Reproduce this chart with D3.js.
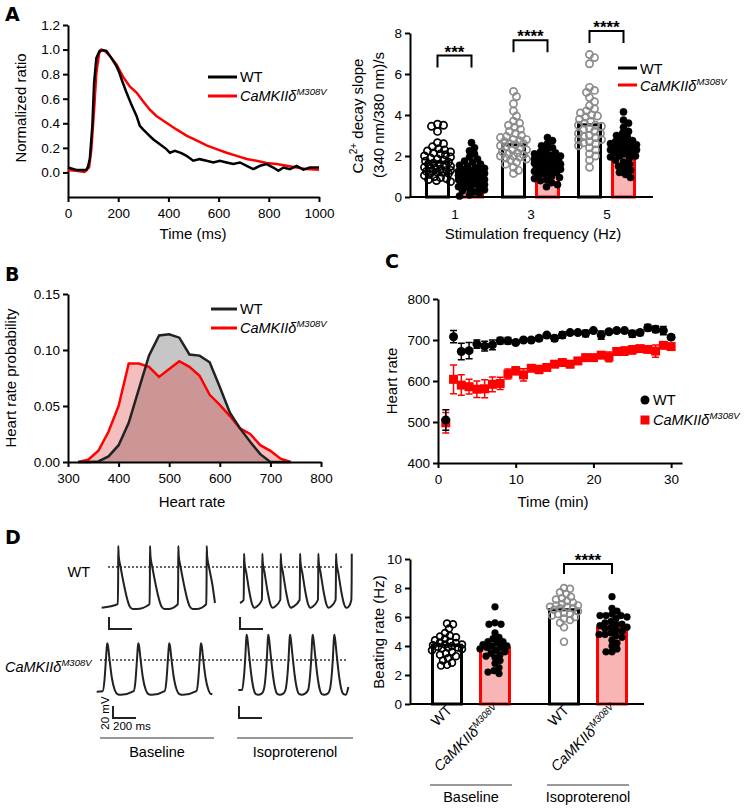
<!DOCTYPE html>
<html>
<head>
<meta charset="utf-8">
<script src="https://cdn.jsdelivr.net/npm/d3@7.9.0/dist/d3.min.js"></script>
<style>
  body { margin: 0; background: #fff; }
  svg { font-family: "Liberation Sans", Arial, sans-serif; }
</style>
</head>
<body>
<svg id="fig" width="744" height="809"></svg>
<script>
// ---- Panel A (left): normalized Ca transient ----
const caTimeWT = [0,33,73,80,87,97,104,113,126,140,153,173,193,203,213,233,253,273,286,299,319,339,366,392,406,426,452,472,499,525,552,579,605,632,658,685,712,738,765,791,818,838,858,884,911,938,964,1000];
const caRatioWT = [0.04,0.02,0.02,0.05,0.11,0.38,0.73,0.93,0.99,0.995,0.99,0.93,0.865,0.82,0.76,0.65,0.55,0.46,0.38,0.35,0.31,0.27,0.23,0.19,0.16,0.175,0.157,0.135,0.095,0.108,0.095,0.081,0.095,0.081,0.068,0.081,0.054,0.027,0.054,0.068,0.04,0.013,0.04,0.027,0.054,0.022,0.04,0.04];
const caTimeMut = [0,33,66,84,93,104,113,124,133,146,166,193,219,246,273,299,326,352,392,432,472,512,552,592,632,672,712,751,791,831,871,911,951,1000];
const caRatioMut = [0.02,0.014,0.005,0.04,0.19,0.51,0.81,0.97,1.0,0.99,0.95,0.88,0.78,0.70,0.65,0.58,0.51,0.46,0.405,0.35,0.30,0.26,0.22,0.19,0.16,0.135,0.11,0.095,0.076,0.068,0.054,0.04,0.027,0.022];

// ---- Panel A (right): Ca decay slope ----
const freqs = ["1", "3", "5"];
const slopeMeanWT = [1.7, 2.55, 3.52];
const slopeMeanMut = [1.07, 1.62, 2.32];
const slopeWT1 = [3.55,3.5,3.45,3.2,2.65,2.6,2.45,2.35,2.3,2.25,2.2,2.15,2.1,2.05,2.0,1.95,1.9,1.85,1.8,1.75,1.7,1.65,1.6,1.55,1.5,1.45,1.4,1.35,1.3,1.3,1.25,1.2,1.2,1.15,1.1,1.05,1.0,0.95,0.9,0.85,0.8,0.75,1.6,1.4,1.25];
const slopeMut1 = [2.65,2.4,2.25,2.1,1.95,1.85,1.75,1.7,1.6,1.55,1.5,1.45,1.4,1.35,1.3,1.25,1.2,1.2,1.15,1.1,1.1,1.05,1.0,1.0,0.95,0.9,0.9,0.85,0.8,0.8,0.75,0.7,0.65,0.6,0.55,0.5,0.45,0.4,0.35,0.3,0.25,0.2,0.1,0.05,1.3,1.0,0.7,1.15,0.85,0.6];
const slopeWT3 = [5.15,4.9,4.55,4.2,3.95,3.7,3.6,3.5,3.4,3.3,3.2,3.1,3.0,2.95,2.9,2.8,2.75,2.7,2.6,2.55,2.5,2.45,2.4,2.3,2.2,2.15,2.1,2.05,2.0,1.95,1.9,1.85,1.8,1.7,1.6,1.45,1.3,1.15,2.6,2.3,2.0,2.8];
const slopeMut3 = [2.9,2.75,2.6,2.5,2.4,2.3,2.2,2.15,2.1,2.05,2.0,1.95,1.9,1.85,1.8,1.75,1.7,1.65,1.6,1.6,1.55,1.5,1.45,1.4,1.35,1.3,1.25,1.2,1.15,1.1,1.0,0.95,0.9,0.85,0.8,0.7,0.6,0.5,1.8,1.5,1.3,1.7,2.0,1.2];
const slopeWT5 = [6.95,6.8,6.5,5.35,5.2,5.1,4.85,4.65,4.45,4.3,4.2,4.1,3.95,3.9,3.8,3.7,3.6,3.5,3.45,3.35,3.3,3.2,3.1,3.0,2.95,2.9,2.8,2.7,2.65,2.6,2.5,2.4,2.3,2.1,2.0,1.8,1.45,3.5,3.1,2.8,4.0];
const slopeMut5 = [4.15,3.75,3.6,3.4,3.2,3.1,3.0,2.9,2.8,2.75,2.7,2.6,2.55,2.5,2.45,2.4,2.35,2.3,2.25,2.2,2.15,2.1,2.0,1.95,1.9,1.8,1.7,1.6,1.5,1.4,1.3,1.2,1.1,0.95,2.6,2.3,2.0];
const slopeSigLevel = [6.9, 7.65, 8.1];
const slopeSigStars = ["***", "****", "****"];

// ---- Panel B: heart rate distribution ----
const hrBins = [320,340,360,380,400,420,440,460,480,500,520,540,560,580,600,620,640,660,680,700,720,740];
const hrProbWT = [0,0,0.0005,0.005,0.015,0.035,0.065,0.095,0.113,0.114,0.111,0.096,0.095,0.089,0.067,0.044,0.030,0.018,0.007,0,0,0];
const hrProbMut = [0,0.002,0.010,0.027,0.050,0.088,0.088,0.085,0.076,0.083,0.090,0.085,0.077,0.060,0.051,0.041,0.030,0.025,0.015,0.010,0.003,0];

// ---- Panel C: heart rate over time ----
const timeMin = d3.range(1, 31);
const hrWT = [505,708,672,674,690,685,688,698,698,694,700,700,704,712,704,712,718,718,716,723,712,720,723,723,715,718,730,726,723,707];
const hrWTErr = [25,15,20,20,10,12,12,8,8,4,3,3,6,4,7,8,3,3,8,4,10,5,5,3,8,7,8,8,10,6];
const hrMut = [498,604,590,586,580,581,592,594,617,625,615,631,628,633,641,645,641,649,657,657,663,659,672,673,676,679,677,673,687,684];
const hrMutErr = [25,35,25,18,20,22,18,15,12,10,15,5,10,5,4,4,8,4,4,4,5,12,5,10,10,5,4,15,4,4];

// ---- Panel D (left): action potential traces (ms, mV) ----
const apWTBaseSpikes = [144, 420, 666, 913];
const apWTIsoSpikes = [35, 194, 354, 522, 681, 835, 972];
const apMutBaseSpikes = [92, 362, 631, 907];
const apMutIsoSpikes = [73, 261, 450, 647, 835];
const apWTBaseShape = [[-4,-62],[-1,-20],[0,35],[4,18],[20,0],[50,-30],[80,-55],[100,-66],[125,-70],[160,-70]];
const apWTIsoShape = [[-4,-55],[-1,-20],[0,22],[4,8],[20,-10],[45,-40],[70,-62],[90,-68],[110,-66]];
const apMutBaseShape = [[-40,-52],[-25,-35],[-12,0],[-4,22],[0,28],[6,24],[20,0],[40,-30],[65,-50],[90,-57],[120,-58]];
const apMutIsoShape = [[-40,-50],[-25,-30],[-12,5],[-4,35],[0,42],[6,36],[20,10],[40,-25],[60,-48],[80,-57],[100,-58],[130,-56]];

// ---- Panel D (right): beating rate ----
const conditions = ["Baseline", "Isoproterenol"];
const beatMeanWT = [4.05, 6.5];
const beatMeanMut = [3.85, 5.25];
const beatWTBase = [5.55,5.5,5.2,4.9,4.7,4.65,4.6,4.5,4.4,4.3,4.25,4.2,4.1,4.05,4.0,3.95,3.9,3.85,3.8,3.7,3.6,3.5,3.4,3.3,3.15,3.0,2.85,2.7,2.65,4.1,3.9];
const beatMutBase = [6.7,5.6,5.5,5.5,4.9,4.6,4.5,4.3,4.2,4.1,4.0,3.9,3.8,3.7,3.6,3.5,3.4,3.3,3.0,2.8,2.5,2.3,2.2,2.1,4.3,3.9,4.0,3.2];
const beatWTIso = [8.0,7.95,7.7,7.6,7.4,7.3,7.1,7.0,6.9,6.8,6.7,6.7,6.6,6.5,6.4,6.3,6.2,6.1,6.0,5.9,5.8,5.6,5.3,4.3,6.8,6.6,7.2,6.2];
const beatMutIso = [7.4,6.6,6.4,6.2,6.1,6.1,6.0,5.9,5.7,5.6,5.5,5.4,5.3,5.2,5.1,5.0,4.9,4.8,4.7,4.6,4.4,4.2,4.0,3.8,3.6,3.6,5.5,6.1,5.3,4.8];
const beatSigLevel = 9.65;

const RED = "#ff0000";
const PINK = "#f9b4b4";
const GRAY = "#8c8c8c";

const svg = d3.select("#fig");

function styleAxis(g, fs = 13.5) {
  g.attr("font-family", null).attr("font-size", fs);
  g.select(".domain").attr("stroke", "#000").attr("stroke-width", 2);
  g.selectAll(".tick line").attr("stroke", "#000").attr("stroke-width", 2);
  g.selectAll(".tick text").attr("fill", "#000");
}

function mutText(sel, size) {
  sel.append("tspan").attr("font-style", "italic").text("CaMKIIδ");
  sel.append("tspan").attr("font-style", "italic")
    .attr("font-size", size * 0.66).attr("dy", -size * 0.38).text("M308V");
}

function panelLetter(x, y, t) {
  svg.append("text").attr("x", x).attr("y", y).attr("font-size", 19)
    .attr("font-family", "'DejaVu Sans', sans-serif").attr("font-weight", "bold").text(t);
}

function yTitle(x, y, t, fs = 15) {
  return svg.append("text").attr("transform", `translate(${x},${y}) rotate(-90)`)
    .attr("text-anchor", "middle").attr("font-size", fs).text(t);
}

function xTitle(x, y, t, fs = 15) {
  return svg.append("text").attr("x", x).attr("y", y)
    .attr("text-anchor", "middle").attr("font-size", fs).text(t);
}

// simple deterministic swarm: nudge points sideways so they overlap less
function swarm(values, cx, y, r, maxOff) {
  const placed = [];
  const pts = values.map((v) => ({ v, y: y(v) })).sort((a, b) => a.y - b.y);
  const dmin = r * 1.6;
  pts.forEach((p) => {
    let best = null;
    for (let k = 0; k <= maxOff && best === null; k++) {
      for (const o of k === 0 ? [0] : [k, -k]) {
        if (placed.every((q) => Math.hypot(q.x - (cx + o), q.y - p.y) >= dmin)) {
          best = o;
          break;
        }
      }
    }
    if (best === null) {
      let bestD = -1;
      for (let o = -maxOff; o <= maxOff; o++) {
        const d = d3.min(placed, (q) => Math.hypot(q.x - (cx + o), q.y - p.y));
        if (d > bestD) { bestD = d; best = o; }
      }
    }
    p.x = cx + best;
    placed.push(p);
  });
  return placed;
}

function drawDots(pts, open, color, r) {
  svg.append("g").selectAll("circle").data(pts).join("circle")
    .attr("cx", (d) => d.x).attr("cy", (d) => d.y).attr("r", r)
    .attr("fill", open ? "none" : color)
    .attr("stroke", color).attr("stroke-width", open ? 1.7 : 0.5);
}

function bracket(x1, x2, yTop, drop, stars) {
  svg.append("path").attr("d", `M${x1},${yTop + drop}V${yTop}H${x2}V${yTop + drop}`)
    .attr("fill", "none").attr("stroke", "#000").attr("stroke-width", 2);
  svg.append("text").attr("x", (x1 + x2) / 2).attr("y", yTop + 2)
    .attr("text-anchor", "middle").attr("font-size", 17).attr("font-weight", "bold").text(stars);
}

// ================= Panel A left =================
{
  const x = d3.scaleLinear().domain([0, 1000]).range([68, 319]);
  const y = d3.scaleLinear().domain([-0.2, 1.2]).range([197, 25]);
  svg.append("g").attr("transform", "translate(0,197)")
    .call(d3.axisBottom(x).tickValues(d3.range(0, 1001, 200)).tickFormat(d3.format("d")).tickSizeInner(5).tickSizeOuter(0).tickPadding(6))
    .call(styleAxis);
  svg.append("g").attr("transform", "translate(68,0)")
    .call(d3.axisLeft(y).tickValues(d3.range(0, 1.21, 0.2)).tickFormat(d3.format(".1f")).tickSizeInner(5).tickSizeOuter(0).tickPadding(3))
    .call(styleAxis);

  const line = d3.line().x((d) => x(d[0])).y((d) => y(d[1]));
  svg.append("path").datum(d3.zip(caTimeMut, caRatioMut)).attr("d", line)
    .attr("fill", "none").attr("stroke", RED).attr("stroke-width", 2.5);
  svg.append("path").datum(d3.zip(caTimeWT, caRatioWT)).attr("d", line)
    .attr("fill", "none").attr("stroke", "#000").attr("stroke-width", 2.5);

  yTitle(26, 108, "Normalized ratio");
  xTitle(193, 239, "Time (ms)");

  svg.append("line").attr("x1", 208).attr("x2", 237).attr("y1", 77).attr("y2", 77).attr("stroke", "#000").attr("stroke-width", 3);
  svg.append("text").attr("x", 240).attr("y", 82).attr("font-size", 14.5).text("WT");
  svg.append("line").attr("x1", 208).attr("x2", 237).attr("y1", 96).attr("y2", 96).attr("stroke", RED).attr("stroke-width", 3);
  svg.append("text").attr("x", 240).attr("y", 101).attr("font-size", 14.5).call(mutText, 14.5);
}

// ================= Panel A right =================
{
  const x = d3.scaleBand().domain(freqs).range([417, 645]);
  const sub = d3.scaleBand().domain(["WT", "Mut"]).range([8, 67]).paddingInner(0.265);
  const y = d3.scaleLinear().domain([0, 8]).range([197, 33]);
  svg.append("g").attr("transform", "translate(410,0)")
    .call(d3.axisLeft(y).tickValues([0, 2, 4, 6, 8]).tickSizeInner(5).tickSizeOuter(0).tickPadding(3))
    .call(styleAxis);

  const wtSets = [slopeWT1, slopeWT3, slopeWT5];
  const mutSets = [slopeMut1, slopeMut3, slopeMut5];
  freqs.forEach((f, i) => {
    const xw = x(f) + sub("WT"), xm = x(f) + sub("Mut"), bw = sub.bandwidth();
    svg.append("rect").attr("x", xw + 1.5).attr("width", bw - 3)
      .attr("y", y(slopeMeanWT[i])).attr("height", y(0) - y(slopeMeanWT[i]))
      .attr("fill", "#fff").attr("stroke", "#000").attr("stroke-width", 3);
    svg.append("rect").attr("x", xm + 1.5).attr("width", bw - 3)
      .attr("y", y(slopeMeanMut[i])).attr("height", y(0) - y(slopeMeanMut[i]))
      .attr("fill", PINK).attr("stroke", RED).attr("stroke-width", 3);
    drawDots(swarm(wtSets[i], xw + bw / 2, y, 3.6, 13), true, i === 0 ? "#000" : GRAY, 3.6);
    drawDots(swarm(mutSets[i], xm + bw / 2, y, 3.6, 13), false, "#000", 3.6);
    bracket(xw + bw / 2, xm + bw / 2, y(slopeSigLevel[i]), 12, slopeSigStars[i]);
    svg.append("text").attr("x", x(f) + x.bandwidth() / 2).attr("y", 219)
      .attr("text-anchor", "middle").attr("font-size", 13.5).text(f);
  });
  svg.append("line").attr("x1", 410).attr("x2", 653).attr("y1", 197).attr("y2", 197)
    .attr("stroke", "#000").attr("stroke-width", 2);

  const t1 = svg.append("text").attr("transform", "translate(363,116) rotate(-90)")
    .attr("text-anchor", "middle").attr("font-size", 15);
  t1.append("tspan").text("Ca");
  t1.append("tspan").attr("font-size", 10).attr("dy", -6).text("2+");
  t1.append("tspan").attr("dy", 6).text(" decay slope");
  yTitle(384, 115, "(340 nm/380 nm)/s");
  xTitle(533, 239, "Stimulation frequency (Hz)");

  svg.append("line").attr("x1", 618).attr("x2", 637).attr("y1", 68).attr("y2", 68).attr("stroke", "#000").attr("stroke-width", 3);
  svg.append("text").attr("x", 640).attr("y", 74).attr("font-size", 14.5).text("WT");
  svg.append("line").attr("x1", 618).attr("x2", 637).attr("y1", 85).attr("y2", 85).attr("stroke", RED).attr("stroke-width", 3);
  svg.append("text").attr("x", 640).attr("y", 91).attr("font-size", 14.5).call(mutText, 14.5);
}

// ================= Panel B =================
{
  const x = d3.scaleLinear().domain([300, 800]).range([68, 321]);
  const y = d3.scaleLinear().domain([0, 0.15]).range([462, 294]);
  const area = d3.area().x((d) => x(d[0])).y0(y(0)).y1((d) => y(d[1]));
  const line = d3.line().x((d) => x(d[0])).y((d) => y(d[1]));
  const wt = d3.zip(hrBins, hrProbWT), mut = d3.zip(hrBins, hrProbMut);
  svg.append("path").datum(wt).attr("d", area).attr("fill", "#c6c6c6");
  svg.append("path").datum(mut).attr("d", area).attr("fill", "rgb(220,40,40)").attr("fill-opacity", 0.3);
  svg.append("path").datum(mut).attr("d", line).attr("fill", "none").attr("stroke", RED).attr("stroke-width", 2.5);
  svg.append("path").datum(wt).attr("d", line).attr("fill", "none").attr("stroke", "#222").attr("stroke-width", 2.5);

  svg.append("g").attr("transform", "translate(0,462)")
    .call(d3.axisBottom(x).tickValues(d3.range(300, 801, 100)).tickSizeInner(5).tickSizeOuter(0).tickPadding(6))
    .call(styleAxis);
  svg.append("g").attr("transform", "translate(68,0)")
    .call(d3.axisLeft(y).tickValues([0, 0.05, 0.1, 0.15]).tickFormat(d3.format(".2f")).tickSizeInner(5).tickSizeOuter(0).tickPadding(3))
    .call(styleAxis);

  yTitle(16, 378, "Heart rate probability");
  xTitle(192, 507, "Heart rate");

  svg.append("line").attr("x1", 211).attr("x2", 237).attr("y1", 309).attr("y2", 309).attr("stroke", "#222").attr("stroke-width", 3);
  svg.append("text").attr("x", 240).attr("y", 314).attr("font-size", 14.5).text("WT");
  svg.append("line").attr("x1", 211).attr("x2", 237).attr("y1", 328).attr("y2", 328).attr("stroke", RED).attr("stroke-width", 3);
  svg.append("text").attr("x", 240).attr("y", 333).attr("font-size", 14.5).call(mutText, 14.5);
}

// ================= Panel C =================
{
  const x = d3.scaleLinear().domain([0, 31.4]).range([438, 682]);
  const y = d3.scaleLinear().domain([400, 800]).range([463, 299]);
  svg.append("g").attr("transform", "translate(0,463)")
    .call(d3.axisBottom(x).tickValues([0, 10, 20, 30]).tickSizeInner(5).tickSizeOuter(0).tickPadding(6))
    .call(styleAxis);
  svg.append("g").attr("transform", "translate(438,0)")
    .call(d3.axisLeft(y).tickValues(d3.range(400, 801, 100)).tickSizeInner(5).tickSizeOuter(0).tickPadding(3))
    .call(styleAxis);

  function errBars(vals, errs, color) {
    const g = svg.append("g").attr("stroke", color).attr("stroke-width", 1.5).attr("fill", "none");
    timeMin.forEach((t, i) => {
      const cx = x(t), y1 = y(vals[i] - errs[i]), y2 = y(vals[i] + errs[i]);
      g.append("path").attr("d", `M${cx},${y1}V${y2}M${cx - 3.5},${y1}H${cx + 3.5}M${cx - 3.5},${y2}H${cx + 3.5}`);
    });
  }
  errBars(hrMut, hrMutErr, RED);
  svg.append("g").selectAll("rect").data(hrMut).join("rect")
    .attr("x", (d, i) => x(timeMin[i]) - 4.5).attr("y", (d) => y(d) - 4.5)
    .attr("width", 9).attr("height", 9).attr("fill", RED);
  errBars(hrWT, hrWTErr, "#000");
  svg.append("g").selectAll("circle").data(hrWT).join("circle")
    .attr("cx", (d, i) => x(timeMin[i])).attr("cy", (d) => y(d)).attr("r", 4.5).attr("fill", "#000");

  yTitle(397, 381, "Heart rate");
  xTitle(553, 507, "Time (min)");

  svg.append("circle").attr("cx", 645).attr("cy", 400).attr("r", 4.5).attr("fill", "#000");
  svg.append("text").attr("x", 653).attr("y", 405).attr("font-size", 14.5).text("WT");
  svg.append("rect").attr("x", 640.5).attr("y", 415.5).attr("width", 9).attr("height", 9).attr("fill", RED);
  svg.append("text").attr("x", 653).attr("y", 425).attr("font-size", 14.5).call(mutText, 14.5);
}

// ================= Panel D left =================
{
  function buildTrace(spikes, shape, startV, endT, endV) {
    const pts = [[0, startV]];
    spikes.forEach((p) => shape.forEach(([dt, v]) => {
      const t = p + dt;
      if (t > 0 && t <= endT) pts.push([t, v]);
    }));
    if (endV !== null && pts[pts.length - 1][0] < endT) pts.push([endT, endV]);
    return pts;
  }
  function drawTrace(pts, x0, dotY) {
    const x = d3.scaleLinear().domain([0, 1000]).range([x0, x0 + 115]);
    const y = d3.scaleLinear().domain([0, 20]).range([dotY, dotY - 12]);
    svg.append("path").datum(pts)
      .attr("d", d3.line().x((d) => x(d[0])).y((d) => y(d[1])).curve(d3.curveMonotoneX))
      .attr("fill", "none").attr("stroke", "#222").attr("stroke-width", 2).attr("stroke-linejoin", "round");
    return { x, y };
  }
  function scaleBar(s, cx, cy) {
    const w = s.x(200) - s.x(0), h = s.y(0) - s.y(20);
    svg.append("path").attr("d", `M${cx},${cy - h}V${cy}H${cx + w}`)
      .attr("fill", "none").attr("stroke", "#222").attr("stroke-width", 2);
  }

  svg.append("line").attr("x1", 108).attr("x2", 343).attr("y1", 567).attr("y2", 567)
    .attr("stroke", "#333").attr("stroke-width", 1.5).attr("stroke-dasharray", "2,2");
  svg.append("line").attr("x1", 100).attr("x2", 348).attr("y1", 660).attr("y2", 660)
    .attr("stroke", "#333").attr("stroke-width", 1.5).attr("stroke-dasharray", "2,2");

  const s1 = drawTrace(buildTrace(apWTBaseSpikes, apWTBaseShape, -68, 985, -60), 101.7, 567);
  const s2 = drawTrace(buildTrace(apWTIsoSpikes, apWTIsoShape, -60, 972, null), 240, 567);
  const s3 = drawTrace(buildTrace(apMutBaseSpikes, apMutBaseShape, -53, 1000, -55), 96.7, 660);
  const s4 = drawTrace(buildTrace(apMutIsoSpikes, apMutIsoShape, -50, 957, -45), 238.3, 660);
  scaleBar(s1, 109, 629);
  scaleBar(s2, 240, 629);
  scaleBar(s3, 113, 718);
  scaleBar(s4, 239, 718);

  svg.append("text").attr("transform", "translate(108.5,713) rotate(-90)")
    .attr("text-anchor", "middle").attr("font-size", 11.5).text("20 mV");
  svg.append("text").attr("x", 113).attr("y", 730).attr("font-size", 11.5).text("200 ms");

  svg.append("text").attr("x", 90).attr("y", 577).attr("text-anchor", "end").attr("font-size", 14.5).text("WT");
  svg.append("text").attr("x", 5).attr("y", 672).attr("font-size", 14.5).call(mutText, 14.5);

  [[100, 214, "Baseline"], [237, 353, "Isoproterenol"]].forEach(([a, b, t]) => {
    svg.append("line").attr("x1", a).attr("x2", b).attr("y1", 738).attr("y2", 738)
      .attr("stroke", "#777").attr("stroke-width", 1.3);
    xTitle((a + b) / 2, 757, t, 14.5);
  });
}

// ================= Panel D right =================
{
  const x = d3.scaleBand().domain(conditions).range([412.5, 646.5]);
  const sub = d3.scaleBand().domain(["WT", "Mut"]).range([18.5, 98.5]).paddingInner(1 / 3);
  const y = d3.scaleLinear().domain([0, 10]).range([704, 559]);
  svg.append("g").attr("transform", "translate(410,0)")
    .call(d3.axisLeft(y).tickValues(d3.range(0, 11, 2)).tickSizeInner(5).tickSizeOuter(0).tickPadding(3))
    .call(styleAxis);

  const wtSets = [beatWTBase, beatWTIso];
  const mutSets = [beatMutBase, beatMutIso];
  conditions.forEach((c, i) => {
    const xw = x(c) + sub("WT"), xm = x(c) + sub("Mut"), bw = sub.bandwidth();
    svg.append("rect").attr("x", xw + 1.5).attr("width", bw - 3)
      .attr("y", y(beatMeanWT[i])).attr("height", y(0) - y(beatMeanWT[i]))
      .attr("fill", "#fff").attr("stroke", "#000").attr("stroke-width", 3);
    svg.append("rect").attr("x", xm + 1.5).attr("width", bw - 3)
      .attr("y", y(beatMeanMut[i])).attr("height", y(0) - y(beatMeanMut[i]))
      .attr("fill", PINK).attr("stroke", RED).attr("stroke-width", 3);
    drawDots(swarm(wtSets[i], xw + bw / 2, y, 3.4, 15), true, i === 0 ? "#000" : GRAY, 3.4);
    drawDots(swarm(mutSets[i], xm + bw / 2, y, 3.4, 15), false, "#000", 3.4);

    svg.append("text").attr("transform", `translate(${xw + bw / 2 + 6},711) rotate(-45)`)
      .attr("text-anchor", "end").attr("font-size", 14.5).text("WT");
    svg.append("text").attr("transform", `translate(${xm + bw / 2 + 6},711) rotate(-45)`)
      .attr("text-anchor", "end").attr("font-size", 14.5).call(mutText, 14.5);

    svg.append("line").attr("x1", xw - 1).attr("x2", xm + bw + 1).attr("y1", 785).attr("y2", 785)
      .attr("stroke", "#777").attr("stroke-width", 1.3);
    xTitle(x(c) + x.bandwidth() / 2, 802, c, 14.5);

    if (i === 1) bracket(xw + bw / 2, xm + bw / 2, y(beatSigLevel), 10, "****");
  });
  svg.append("line").attr("x1", 410).attr("x2", 644).attr("y1", 704).attr("y2", 704)
    .attr("stroke", "#000").attr("stroke-width", 2);

  yTitle(384, 632, "Beating rate (Hz)");
}

panelLetter(5, 21, "A");
panelLetter(5, 281, "B");
panelLetter(385, 268, "C");
panelLetter(5, 544, "D");
</script>
</body>
</html>
